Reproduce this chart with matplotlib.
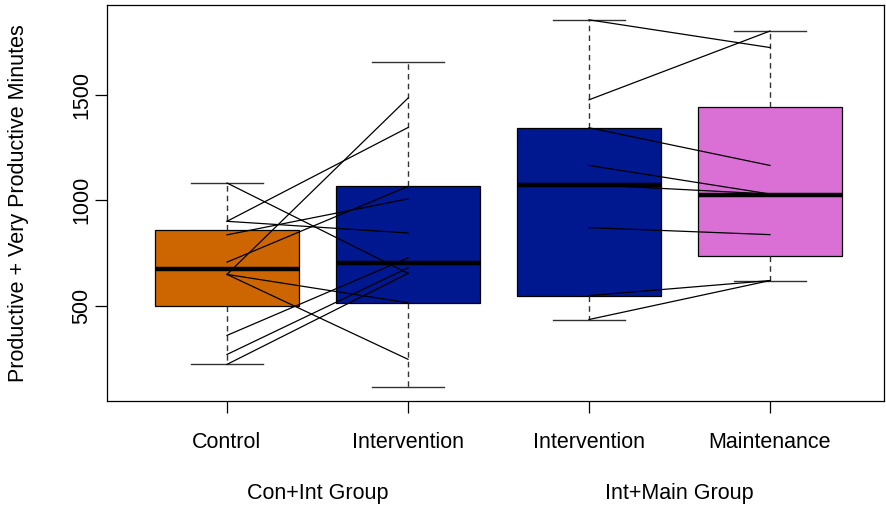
import numpy as np
import matplotlib
matplotlib.use("Agg")
from matplotlib import pyplot as plt
from matplotlib.transforms import blended_transform_factory

plt.rcParams['font.family'] = ['Liberation Sans', 'DejaVu Sans']

# box labels, group labels and fill colours
box_labels = ["Control", "Intervention", "Intervention", "Maintenance"]
group_labels = ["Con+Int Group", "Int+Main Group"]
box_colors = ["#CD6600", "#00188F", "#00188F", "#DA70D6"]

# five number summaries for each box
whisker_low = [225, 120, 437, 621]
lower_hinge = [500, 516, 550, 736]
medians = [676, 705, 1074, 1027]
upper_hinge = [862, 1066, 1343, 1442]
whisker_high = [1082, 1656, 1853, 1800]

# paired subjects in the Con+Int group (control -> intervention)
con_before = [1082, 901, 901, 837, 708, 650, 650, 650, 362, 272, 225]
con_after = [655, 1344, 846, 1007, 1066, 1483, 516, 249, 728, 681, 655]

# paired subjects in the Int+Main group (intervention -> maintenance)
main_before = [1853, 1475, 1343, 1165, 1074, 871, 550, 437]
main_after = [1722, 1800, 1165, 1030, 1030, 838, 621, 621]

fs = 15.5

fig = plt.figure(figsize=(8.86, 5.07), dpi=100)
ax = fig.add_axes([107 / 886, 1 - 401 / 507, (884 - 107) / 886, (401 - 5) / 507])

positions = [1, 2, 3, 4]
stats = []
for i in range(len(box_labels)):
    stats.append({"med": medians[i], "q1": lower_hinge[i], "q3": upper_hinge[i],
                  "whislo": whisker_low[i], "whishi": whisker_high[i],
                  "fliers": [], "label": box_labels[i]})

bp = ax.bxp(stats, positions=positions, widths=0.8, capwidths=0.4,
            patch_artist=True, showfliers=False,
            boxprops=dict(edgecolor="black", linewidth=0.9),
            medianprops=dict(color="black", linewidth=3.2, solid_capstyle="butt"),
            whiskerprops=dict(color="#333333", linewidth=1.0, linestyle=(0, (4, 3))),
            capprops=dict(color="#333333", linewidth=1.0))
for patch, c in zip(bp["boxes"], box_colors):
    patch.set_facecolor(c)

# spaghetti lines joining each subject's two measurements
for a, b in zip(con_before, con_after):
    ax.plot([1, 2], [a, b], color="black", linewidth=0.9, zorder=5)
for a, b in zip(main_before, main_after):
    ax.plot([3, 4], [a, b], color="black", linewidth=0.9, zorder=5)

ax.set_xlim(0.337, 4.63)
ax.set_ylim(52, 1923)

ax.set_xticks(positions)
ax.set_xticklabels(box_labels, fontsize=fs)
ax.set_yticks([500, 1000, 1500])
ax.set_yticklabels(["500", "1000", "1500"], fontsize=fs, rotation=90, va="center")
ax.tick_params(axis="x", length=8.5, width=0.9, pad=14)
ax.tick_params(axis="y", length=8.5, width=0.9, pad=2)
for s in ax.spines.values():
    s.set_linewidth(0.9)

fig.text(19 / 886, 1 - 203 / 507, "Productive + Very Productive Minutes",
         rotation=90, ha="center", va="center", fontsize=fs)

trans = blended_transform_factory(ax.transData, fig.transFigure)
ax.text(1.5, 1 - 493 / 507, group_labels[0], transform=trans, ha="center", va="center", fontsize=fs)
ax.text(3.5, 1 - 493 / 507, group_labels[1], transform=trans, ha="center", va="center", fontsize=fs)

fig.savefig("out.png", dpi=100)
